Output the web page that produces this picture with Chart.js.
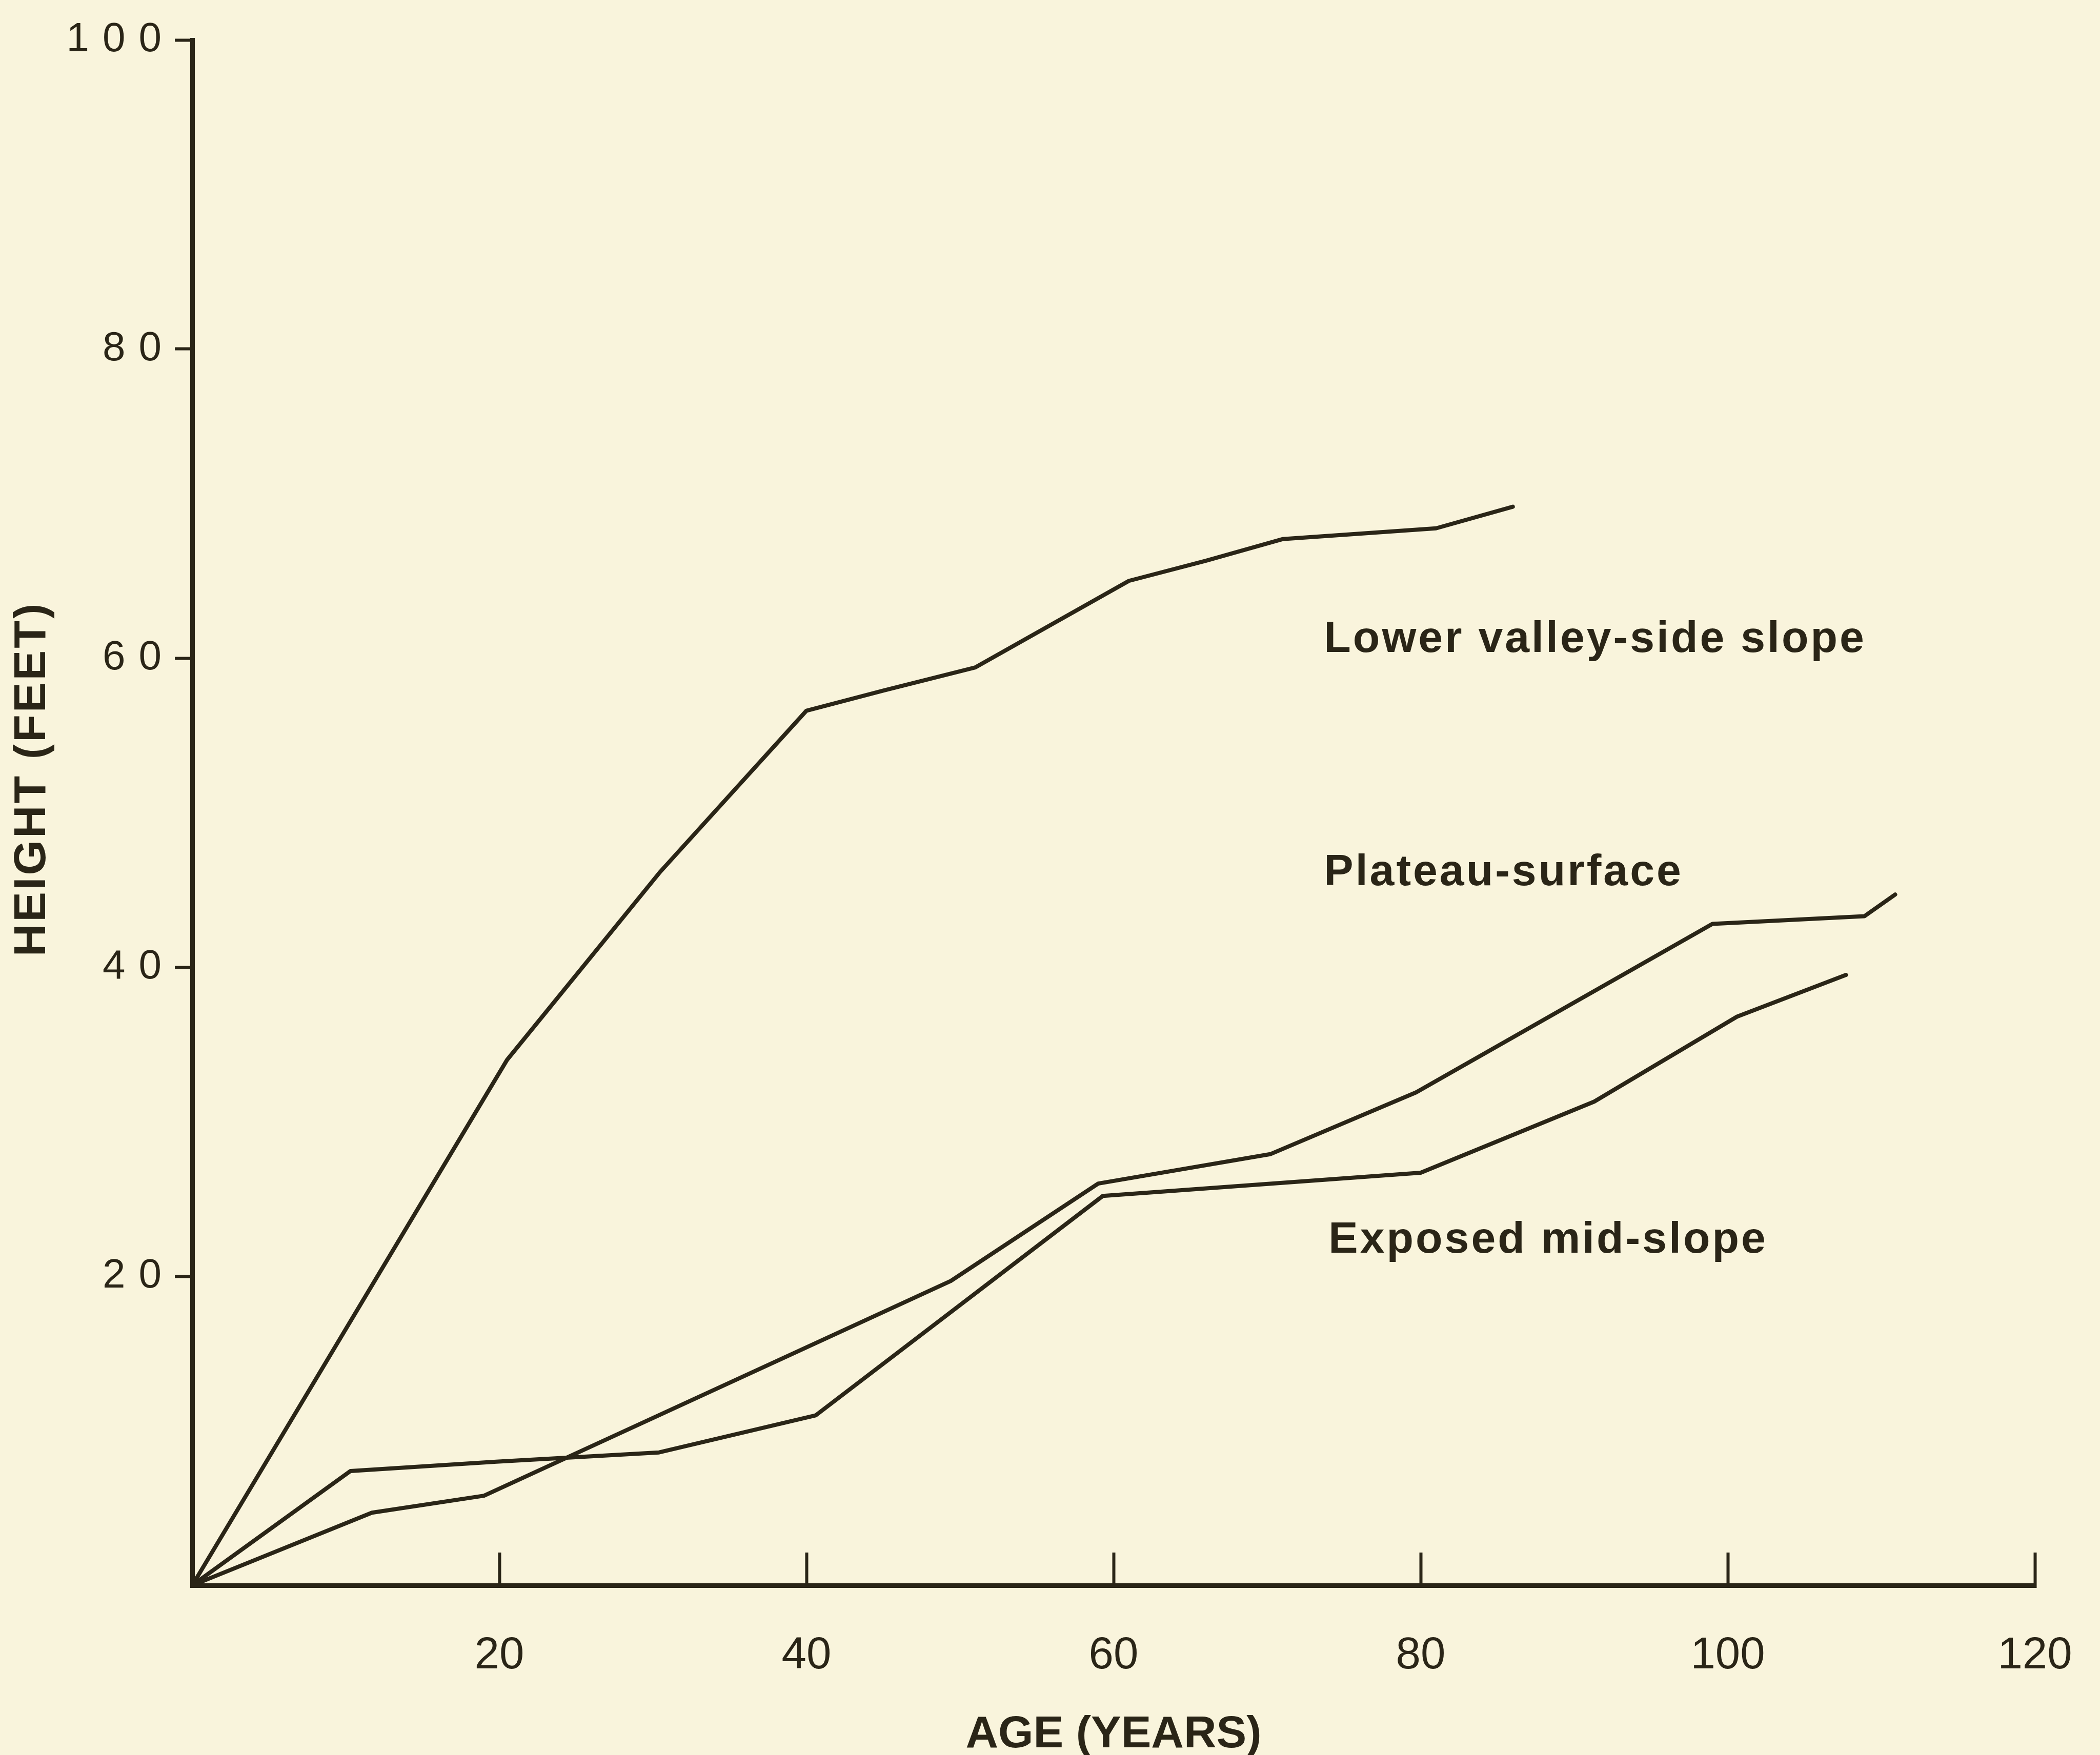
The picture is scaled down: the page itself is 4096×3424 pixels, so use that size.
<!DOCTYPE html>
<html>
<head>
<meta charset="utf-8">
<title>Height growth by site</title>
<script src="https://cdn.jsdelivr.net/npm/chart.js@4.4.0/dist/chart.umd.min.js"></script>
<style>
    html, body { margin: 0; padding: 0; background: #f9f4dc; }
    #wrap { width: 4096px; height: 3424px; }
</style>
</head>
<body>
<div id="wrap"><canvas id="growthChart" width="4096" height="3424"></canvas></div>
<script>
// Curve points (age in years, height in feet)
const lowerAge = [0, 20.5, 30.5, 40, 45, 51, 61, 66, 71, 81, 86];
const lowerHeight = [0, 34, 46.2, 56.6, 57.9, 59.4, 65, 66.3, 67.7, 68.4, 69.8];

const plateauAge = [0, 11.7, 19, 49.4, 59, 70.2, 79.7, 99, 108.9, 110.9];
const plateauHeight = [0, 4.7, 5.8, 19.7, 26, 27.9, 31.9, 42.8, 43.3, 44.7];

const exposedAge = [0, 10.3, 19.8, 30.4, 40.6, 59.3, 80, 91.3, 100.6, 107.7];
const exposedHeight = [0, 7.4, 8.0, 8.6, 11.0, 25.2, 26.7, 31.3, 36.8, 39.5];

// Curve names and where they sit (in data units)
const curveLabels = ['Lower valley-side slope', 'Plateau-surface', 'Exposed mid-slope'];
const labelAge = [73.7, 73.7, 74.0];
const labelHeight = [61.2, 46.1, 22.3];

const INK = '#2a2517';
const PAPER = '#f9f4dc';
const FONT = '"Liberation Sans", Arial, sans-serif';

function points(xs, ys) {
    return xs.map((x, i) => ({ x: x, y: ys[i] }));
}

function curve(label, xs, ys) {
    return {
        label: label,
        data: points(xs, ys),
        borderColor: INK,
        borderWidth: 8,
        borderJoinStyle: 'round',
        borderCapStyle: 'round',
        pointRadius: 0,
        tension: 0,
        fill: false
    };
}

// Paper-coloured background
const paperBackground = {
    id: 'paperBackground',
    beforeDraw(chart) {
        const ctx = chart.ctx;
        ctx.save();
        ctx.fillStyle = PAPER;
        ctx.fillRect(0, 0, chart.width, chart.height);
        ctx.restore();
    }
};

// Spaced-out y tick labels, curve names and the rotated y title
const figureText = {
    id: 'figureText',
    afterDatasetsDraw(chart) {
        // y tick labels are drawn after the datasets (ticks.z = 1)
        chart.ctx.letterSpacing = '26px';
    },
    afterDraw(chart) {
        const { ctx, scales: { x, y } } = chart;
        ctx.save();
        ctx.fillStyle = INK;
        ctx.letterSpacing = '4px';
        ctx.font = 'bold 86px ' + FONT;
        ctx.textBaseline = 'middle';
        ctx.textAlign = 'left';
        curveLabels.forEach((text, i) => {
            ctx.fillText(text, x.getPixelForValue(labelAge[i]), y.getPixelForValue(labelHeight[i]));
        });

        ctx.font = 'bold 88px ' + FONT;
        ctx.textAlign = 'center';
        ctx.translate(64, 1520);
        ctx.rotate(-Math.PI / 2);
        ctx.fillText('HEIGHT (FEET)', 0, 0);
        ctx.restore();
        ctx.letterSpacing = '0px';
    }
};

new Chart(document.getElementById('growthChart').getContext('2d'), {
    type: 'line',
    data: {
        datasets: [
            curve('Lower valley-side slope', lowerAge, lowerHeight),
            curve('Plateau-surface', plateauAge, plateauHeight),
            curve('Exposed mid-slope', exposedAge, exposedHeight)
        ]
    },
    plugins: [paperBackground, figureText],
    options: {
        responsive: false,
        animation: false,
        devicePixelRatio: 1,
        layout: { padding: { top: 78, right: 127, left: 0, bottom: 0 } },
        plugins: {
            legend: { display: false },
            tooltip: { enabled: false }
        },
        scales: {
            x: {
                type: 'linear',
                min: 0,
                max: 120,
                afterFit: (scale) => {
                    scale.height = 331;
                    // the big tick padding would otherwise widen the side margins
                    scale.paddingLeft = 0;
                    scale.paddingRight = 0;
                },
                border: { color: INK, width: 9 },
                grid: {
                    drawOnChartArea: false,
                    tickLength: -64, // ticks point up into the plot
                    tickWidth: 6,
                    color: INK
                },
                ticks: {
                    stepSize: 20,
                    padding: 150,
                    maxRotation: 0,
                    color: INK,
                    font: { family: FONT, size: 87 },
                    callback: (v) => (v === 0 ? '' : v)
                },
                title: {
                    display: true,
                    text: 'AGE (YEARS)',
                    color: INK,
                    padding: 0,
                    font: { family: FONT, size: 88, weight: 'bold', lineHeight: 0.9 }
                }
            },
            y: {
                type: 'linear',
                min: 0,
                max: 100,
                afterFit: (scale) => { scale.width = 375; },
                border: { color: INK, width: 9 },
                grid: {
                    drawOnChartArea: false,
                    tickLength: 34,
                    tickWidth: 6,
                    color: (c) => (c.tick && c.tick.value === 0 ? 'rgba(0,0,0,0)' : INK)
                },
                ticks: {
                    stepSize: 20,
                    padding: 0,
                    z: 1,
                    color: INK,
                    font: { family: FONT, size: 80 },
                    callback: (v) => (v === 0 ? '' : v)
                }
            }
        }
    }
});
</script>
</body>
</html>
